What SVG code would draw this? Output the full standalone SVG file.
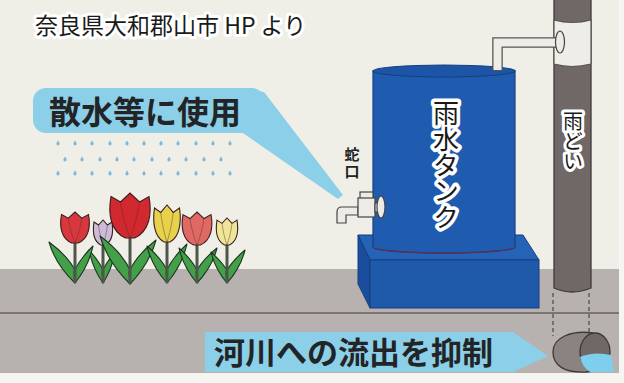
<svg xmlns="http://www.w3.org/2000/svg" width="624" height="383" viewBox="0 0 624 383">
  <style>
    .halo { font-family: "Noto Sans CJK JP", "Noto Sans", sans-serif; fill: #1a1a1a; stroke: #ffffff; stroke-linejoin: round; paint-order: stroke; }
    .bold { font-family: "Noto Sans CJK JP", "Noto Sans", sans-serif; font-weight: 700; fill: #222426; }
    .vert { writing-mode: vertical-rl; }
    .leaf { fill: #43a049; stroke: #1e3320; stroke-width: 1.1; stroke-linejoin: round; }
    .stem { stroke: #4d574a; stroke-width: 3; fill: none; }
    .petal { stroke: #3a2020; stroke-width: 1.1; }
    .vein { fill: none; stroke: #5a2a2a; stroke-width: 0.8; opacity: 0.55; }
    .drop { fill: #7fb7da; }
    .tank { fill: #1f5cb0; stroke: #173f7e; stroke-width: 1.2; }
    .fixture { fill: #ecebe6; stroke: #444444; stroke-width: 1.2; }
    .sky-blue { fill: #8ccfe8; }
  </style>
  <defs>
    <!-- unit tulip head: width 1 centred on x=0, height 1 from the top -->
    <path id="tulip-head" vector-effect="non-scaling-stroke" d="M-0.5,0.08 L-0.25,0.2 L0,0 L0.25,0.2 L0.5,0.08 C0.58,0.45 0.52,0.85 0.12,1 L-0.12,1 C-0.52,0.85 -0.58,0.45 -0.5,0.08 Z"/>
    <path id="tulip-vein" vector-effect="non-scaling-stroke" d="M-0.25,0.2 C-0.2,0.5 -0.1,0.8 0,1 M0.25,0.2 C0.2,0.5 0.1,0.8 0,1"/>
    <path id="drop" d="M0,-2.6 Q1.7,-0.2 1.6,0.8 A1.6,1.6 0 0 1 -1.6,0.8 Q-1.7,-0.2 0,-2.6 Z"/>
  </defs>

  <!-- backdrop: wall, ground and kerb line -->
  <rect x="0" y="0" width="624" height="383" fill="#efeee7"/>
  <rect x="0" y="269" width="624" height="104" fill="#b7b1af"/>
  <rect x="0" y="373" width="624" height="10" fill="#f5f4f1"/>
  <line x1="0" y1="313" x2="619" y2="313" stroke="#67615f" stroke-width="1.6"/>
  <rect x="619" y="0" width="5" height="383" fill="#f6f5f1"/>

  <!-- source caption -->
  <g id="caption">
    <text class="halo" x="35" y="34" font-size="23" stroke-width="6">奈良県大和郡山市 HP より</text>
  </g>

  <!-- watering callout -->
  <g id="watering">
    <rect class="sky-blue" x="33" y="88" width="232" height="45" rx="13"/>
    <polygon class="sky-blue" points="248,90 264,92 343,195 338,199 243,133"/>
    <text class="bold" x="49" y="124" font-size="32">散水等に使用</text>
  </g>

  <!-- sprinkled water drops -->
  <g id="drops">
    <use href="#drop" class="drop" x="58" y="143"/><use href="#drop" class="drop" x="75" y="143"/>
    <use href="#drop" class="drop" x="92" y="143"/><use href="#drop" class="drop" x="110" y="143"/>
    <use href="#drop" class="drop" x="127" y="143"/><use href="#drop" class="drop" x="144" y="143"/>
    <use href="#drop" class="drop" x="161" y="143"/><use href="#drop" class="drop" x="178" y="143"/>
    <use href="#drop" class="drop" x="196" y="143"/><use href="#drop" class="drop" x="213" y="143"/>
    <use href="#drop" class="drop" x="230" y="143"/>
    <use href="#drop" class="drop" x="65" y="159"/><use href="#drop" class="drop" x="82" y="159"/>
    <use href="#drop" class="drop" x="100" y="159"/><use href="#drop" class="drop" x="117" y="159"/>
    <use href="#drop" class="drop" x="134" y="159"/><use href="#drop" class="drop" x="152" y="159"/>
    <use href="#drop" class="drop" x="169" y="159"/><use href="#drop" class="drop" x="186" y="159"/>
    <use href="#drop" class="drop" x="204" y="159"/><use href="#drop" class="drop" x="221" y="159"/>
    <use href="#drop" class="drop" x="58" y="173"/><use href="#drop" class="drop" x="75" y="173"/>
    <use href="#drop" class="drop" x="92" y="173"/><use href="#drop" class="drop" x="110" y="173"/>
    <use href="#drop" class="drop" x="127" y="173"/><use href="#drop" class="drop" x="144" y="173"/>
    <use href="#drop" class="drop" x="161" y="173"/><use href="#drop" class="drop" x="178" y="173"/>
    <use href="#drop" class="drop" x="196" y="173"/><use href="#drop" class="drop" x="213" y="173"/>
    <use href="#drop" class="drop" x="230" y="173"/>
  </g>

  <!-- tulip bed -->
  <g id="tulips">
    <!-- lavender (behind) -->
    <g>
      <path class="leaf" d="M103,283 Q92.5,268.2 89,250 Q99.5,261.6 104,272 Z"/>
      <path class="leaf" d="M103,283 Q112,269 115,252 Q106,262.9 102,272 Z"/>
      <line class="stem" x1="103" y1="244" x2="103" y2="283"/>
      <g transform="translate(103,220) scale(18,25)">
        <use href="#tulip-head" fill="#cdbbd9" class="petal"/>
        <use href="#tulip-vein" class="vein"/>
      </g>
    </g>
    <!-- red, left -->
    <g>
      <path class="leaf" d="M75,283 Q55.5,264.6 49,242 Q68.5,256.4 76,272 Z"/>
      <path class="leaf" d="M75,283 Q88.5,266.4 93,246 Q79.5,259 74,272 Z"/>
      <line class="stem" x1="75" y1="242" x2="75" y2="283"/>
      <g transform="translate(75,212) scale(27,31)">
        <use href="#tulip-head" fill="#d8383d" class="petal"/>
        <use href="#tulip-vein" class="vein"/>
      </g>
    </g>
    <!-- large red -->
    <g>
      <path class="leaf" d="M130,284 Q107.5,261.9 100,236 Q122.5,252.5 131,272 Z"/>
      <path class="leaf" d="M130,284 Q149.5,263.7 156,240 Q136.5,255 129,272 Z"/>
      <line class="stem" x1="130" y1="237" x2="130" y2="284"/>
      <g transform="translate(130,193) scale(38,45)">
        <use href="#tulip-head" fill="#d2282f" class="petal"/>
        <use href="#tulip-vein" class="vein"/>
      </g>
    </g>
    <!-- yellow -->
    <g>
      <path class="leaf" d="M167,283 Q152,266.4 147,246 Q162,259 168,272 Z"/>
      <path class="leaf" d="M167,283 Q182,265.5 187,244 Q172,257.7 166,272 Z"/>
      <line class="stem" x1="167" y1="241" x2="167" y2="283"/>
      <g transform="translate(167,205) scale(25,37)">
        <use href="#tulip-head" fill="#e9d24b" class="petal"/>
        <use href="#tulip-vein" class="vein"/>
      </g>
    </g>
    <!-- salmon -->
    <g>
      <path class="leaf" d="M197,283 Q183.5,267.3 179,248 Q192.5,260.3 198,272 Z"/>
      <path class="leaf" d="M197,283 Q212,267.3 217,248 Q202,260.3 196,272 Z"/>
      <line class="stem" x1="197" y1="244" x2="197" y2="283"/>
      <g transform="translate(197,212) scale(28,33)">
        <use href="#tulip-head" fill="#e06a63" class="petal"/>
        <use href="#tulip-vein" class="vein"/>
      </g>
    </g>
    <!-- pale yellow -->
    <g>
      <path class="leaf" d="M227,283 Q215,269 211,252 Q223,262.9 228,272 Z"/>
      <path class="leaf" d="M227,283 Q240.5,268.2 245,250 Q231.5,261.6 226,272 Z"/>
      <line class="stem" x1="227" y1="244" x2="227" y2="283"/>
      <g transform="translate(227,218) scale(20,27)">
        <use href="#tulip-head" fill="#eee696" class="petal"/>
        <use href="#tulip-vein" class="vein"/>
      </g>
    </g>
  </g>

  <!-- rain tank on its plinth -->
  <g id="rain-tank">
    <polygon points="358,235 523,235 539,260 370,260" fill="#2563b6" stroke="#173f7e" stroke-width="1"/>
    <polygon points="358,235 370,260 370,308 358,284" fill="#1a4e9c" stroke="#173f7e" stroke-width="1"/>
    <rect x="370" y="260" width="169" height="48" fill="#1e59aa" stroke="#173f7e" stroke-width="1"/>
    <path class="tank" d="M373,71 L373,247 A71,6 0 0 0 515,247 L515,71 Z"/>
    <path d="M373,247 A71,6 0 0 0 515,247" fill="none" stroke="#5a2f55" stroke-width="1.4"/>
    <ellipse cx="444" cy="71" rx="71" ry="6" fill="#1c55a6" stroke="#173f7e" stroke-width="1.2"/>
    <text class="halo vert" x="446" y="100" font-size="26" stroke-width="7">雨水タンク</text>
  </g>

  <!-- tap -->
  <g id="tap">
    <path class="fixture" d="M358,207 L342,207 Q337,207 337,212 L337,223 L346,223 L346,215 L358,215 Z"/>
    <rect class="fixture" x="360" y="192" width="13" height="7"/>
    <rect class="fixture" x="358" y="198" width="17" height="19"/>
    <rect class="fixture" x="375" y="203" width="5" height="9"/>
    <ellipse class="fixture" cx="381" cy="207" rx="4" ry="11"/>
    <text class="bold vert" x="352" y="147" font-size="15" letter-spacing="2">蛇口</text>
  </g>

  <!-- downpipe with collector and feed to the tank -->
  <g id="downpipe">
    <path d="M554,-2 L554,288 Q572,296 591,288 L591,-2 Z" fill="#6f6867" stroke="#3e3a39" stroke-width="1.3"/>
    <path d="M554,20 Q572,25 591,20 L591,64 Q572,69 554,64 Z" fill="#eeede8" stroke="#555555" stroke-width="1.2"/>
    <path d="M559,42.5 L497.5,42.5 L497.5,71" fill="none" stroke="#555555" stroke-width="10.5"/>
    <path d="M559,42.5 L497.5,42.5 L497.5,70" fill="none" stroke="#eeede8" stroke-width="8"/>
    <ellipse class="fixture" cx="560" cy="42" rx="4.5" ry="11"/>
    <text class="halo vert" x="573" y="111" font-size="20" stroke-width="6">雨どい</text>
  </g>

  <!-- pipe continues underground to the outlet -->
  <g id="connectors">
    <line x1="553" y1="293" x2="553" y2="336" stroke="#333333" stroke-width="1" stroke-dasharray="4,3"/>
    <line x1="589" y1="293" x2="589" y2="336" stroke="#333333" stroke-width="1" stroke-dasharray="4,3"/>
  </g>

  <!-- outflow callout -->
  <g id="outflow">
    <polygon class="sky-blue" points="205,332 513,332 548,356 513,372 205,372"/>
    <text class="bold" x="214" y="364" font-size="31">河川への流出を抑制</text>
  </g>

  <!-- outlet pipe end -->
  <g id="outlet">
    <path d="M593,333 C572,330 553,337 553,352 C553,366 565,373 586,372 L595,371 Z" fill="#8a8381" stroke="#3d3938" stroke-width="1.3"/>
    <ellipse cx="595" cy="352" rx="15" ry="19" fill="#6f6866" stroke="#3d3938" stroke-width="1.3"/>
    <path d="M580,357 Q594,351 611,355 L614,372 L590,372 Q582,367 580,357 Z" fill="#7ecfee"/>
  </g>
</svg>
